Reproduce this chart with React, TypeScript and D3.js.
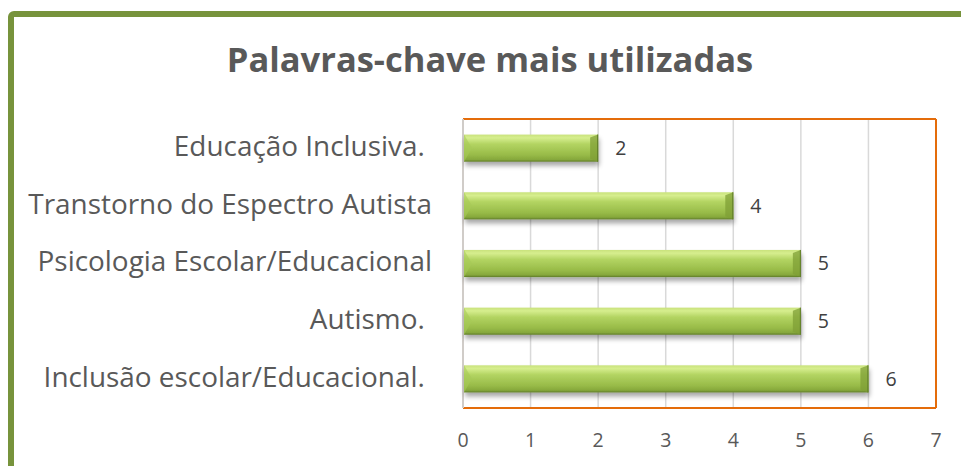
import React from "react";
import * as d3 from "d3";

const categories = [
  "Educação Inclusiva. ",
  "Transtorno do Espectro Autista",
  "Psicologia Escolar/Educacional",
  "Autismo. ",
  "Inclusão escolar/Educacional. ",
];
const values = [2, 4, 5, 5, 6];
const ticks = [0, 1, 2, 3, 4, 5, 6, 7];
const title = "Palavras-chave mais utilizadas";

const W = 961;
const H = 466;
const plot = { left: 463, right: 936, top: 119, bottom: 408 };
const FONT = "'Open Sans', 'Noto Sans', sans-serif";

export default function App() {
  const x = d3.scaleLinear().domain([0, 7]).range([plot.left, plot.right]);
  const y = d3
    .scaleBand<string>()
    .domain(categories)
    .range([plot.top, plot.bottom])
    .paddingInner(0.53)
    .paddingOuter(0.27);
  const bh = y.bandwidth();

  return (
    <div style={{ position: "absolute", left: 0, top: 0 }}>
      <svg width={W} height={H} style={{ display: "block", background: "#fff" }}>
        <defs>
          <linearGradient id="barG" x1="0" y1="0" x2="0" y2="1">
            <stop offset="0" stopColor="#c9e27c" />
            <stop offset="0.12" stopColor="#d6ee8e" />
            <stop offset="0.35" stopColor="#b3d462" />
            <stop offset="0.75" stopColor="#98bb48" />
            <stop offset="0.92" stopColor="#86a83c" />
            <stop offset="1" stopColor="#5f7c28" />
          </linearGradient>
          <filter id="shadow" x="-5%" y="-20%" width="110%" height="160%">
            <feGaussianBlur in="SourceAlpha" stdDeviation="2.5" />
            <feOffset dx="1" dy="4" result="b" />
            <feComponentTransfer>
              <feFuncA type="linear" slope="0.35" />
            </feComponentTransfer>
            <feMerge>
              <feMergeNode />
              <feMergeNode in="SourceGraphic" />
            </feMerge>
          </filter>
        </defs>

        <rect x={11} y={14} width={1200} height={1200} rx={3} fill="none" stroke="#77933C" strokeWidth={6} />

        <text x={490} y={72} textAnchor="middle" fontFamily={FONT} fontWeight="bold" fontSize={34.5} fill="#595959">
          {title}
        </text>

        {ticks.map((t) => (
          <line key={"g" + t} x1={x(t)} x2={x(t)} y1={plot.top} y2={plot.bottom} stroke="#d9d9d9" strokeWidth={1.5} />
        ))}
        <line x1={plot.left} x2={plot.right} y1={plot.top} y2={plot.top} stroke="#e46c0a" strokeWidth={2} />
        <line x1={plot.left} x2={plot.right} y1={plot.bottom} y2={plot.bottom} stroke="#e46c0a" strokeWidth={2} />
        <line x1={plot.right} x2={plot.right} y1={plot.top} y2={plot.bottom} stroke="#e46c0a" strokeWidth={2} />
        <line x1={plot.left} x2={plot.left} y1={plot.top} y2={plot.bottom} stroke="#d0ccc8" strokeWidth={2} />

        {categories.map((c, i) => {
          const y0 = y(c)!;
          const x0 = x(0);
          const x1 = x(values[i]);
          const bev = 8;
          return (
            <g key={c}>
              <g filter="url(#shadow)">
                <rect x={x0 + 1} y={y0} width={x1 - x0 - 1} height={bh} fill="url(#barG)" />
              </g>
              <polygon
                points={`${x1},${y0} ${x1},${y0 + bh} ${x1 - bev},${y0 + bh - 3} ${x1 - bev},${y0 + 3}`}
                fill="#7f9f35"
                opacity={0.75}
              />
              <polygon
                points={`${x0 + 1},${y0} ${x0 + 1},${y0 + bh} ${x0 + 1 + bev},${y0 + bh / 2}`}
                fill="#a6c957"
                opacity={0.6}
              />
              <line x1={x1 - 0.5} x2={x1 - 0.5} y1={y0} y2={y0 + bh} stroke="#5f7c28" strokeWidth={1} />
              <text x={x1 + 17} y={y0 + bh / 2} dy="0.35em" fontFamily={FONT} fontSize={19.5} fill="#404040">
                {values[i]}
              </text>
              <text
                x={432}
                y={y0 + bh / 2 - 2}
                dy="0.35em"
                textAnchor="end"
                fontFamily={FONT}
                fontSize={27.9}
                fill="#595959"
                style={{ whiteSpace: "pre" }}
              >
                {c}
              </text>
            </g>
          );
        })}

        {ticks.map((t) => (
          <text key={"t" + t} x={x(t)} y={440} dy="0.35em" textAnchor="middle" fontFamily={FONT} fontSize={19.5} fill="#595959">
            {t}
          </text>
        ))}
      </svg>
    </div>
  );
}
